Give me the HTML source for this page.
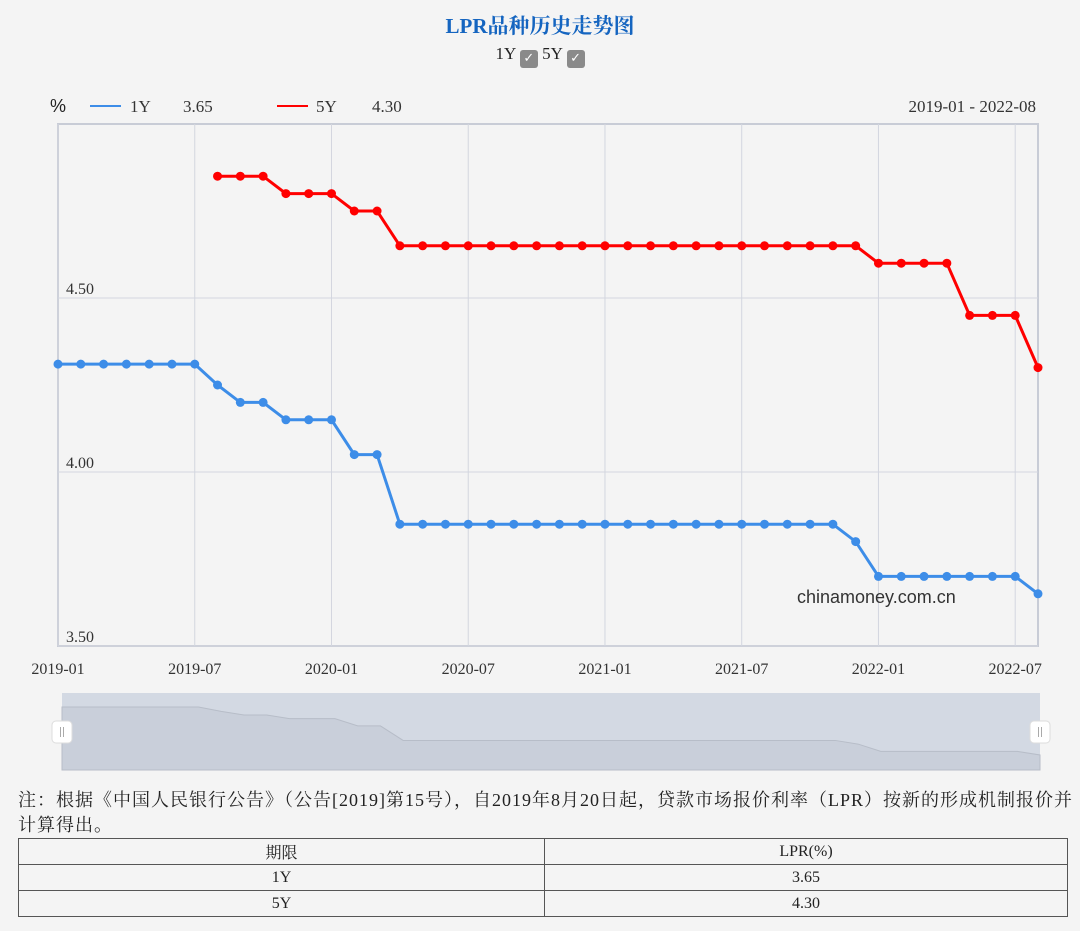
<!DOCTYPE html>
<html><head><meta charset="utf-8"><style>
html,body{margin:0;padding:0;background:#f4f4f4;width:1080px;height:931px;overflow:hidden;}
body{font-family:"Liberation Serif","Noto Serif CJK SC",serif;color:#222;position:relative;}
.title{position:absolute;top:10px;left:0;width:1080px;text-align:center;color:#1565c0;font-weight:bold;font-size:21px;}
.toggles{position:absolute;top:44px;left:0;width:1080px;text-align:center;font-size:17px;}
.cb{display:inline-block;width:18px;height:18px;background:#8a8a8a;border-radius:3px;color:#fff;font-size:13px;line-height:18px;vertical-align:-3px;text-align:center;font-family:"DejaVu Sans",sans-serif;}
.note{position:absolute;top:788px;left:18px;width:1062px;font-size:18px;line-height:25px;white-space:nowrap;letter-spacing:1px;font-family:"Liberation Serif","Noto Serif CJK SC",serif;}
table{position:absolute;top:838px;left:18px;width:1050px;border-collapse:collapse;font-size:16px;}
td{border:1px solid #555;text-align:center;height:25px;padding:0;}
</style></head><body>
<div class="title">LPR品种历史走势图</div>
<div class="toggles">1Y <span class="cb">✓</span> 5Y <span class="cb">✓</span></div>
<svg id="chart" width="1080" height="780" style="position:absolute;top:0;left:0"></svg>
<div class="note">注：根据《中国人民银行公告》（公告[2019]第15号），自2019年8月20日起，贷款市场报价利率（LPR）按新的形成机制报价并<br>计算得出。</div>
<table>
<tr><td style="width:525px">期限</td><td>LPR(%)</td></tr>
<tr><td>1Y</td><td>3.65</td></tr>
<tr><td>5Y</td><td>4.30</td></tr>
</table>
<script>
const months=["2019-01","2019-02","2019-03","2019-04","2019-05","2019-06","2019-07","2019-08","2019-09","2019-10","2019-11","2019-12","2020-01","2020-02","2020-03","2020-04","2020-05","2020-06","2020-07","2020-08","2020-09","2020-10","2020-11","2020-12","2021-01","2021-02","2021-03","2021-04","2021-05","2021-06","2021-07","2021-08","2021-09","2021-10","2021-11","2021-12","2022-01","2022-02","2022-03","2022-04","2022-05","2022-06","2022-07","2022-08"];
const y1=[4.31,4.31,4.31,4.31,4.31,4.31,4.31,4.25,4.20,4.20,4.15,4.15,4.15,4.05,4.05,3.85,3.85,3.85,3.85,3.85,3.85,3.85,3.85,3.85,3.85,3.85,3.85,3.85,3.85,3.85,3.85,3.85,3.85,3.85,3.85,3.80,3.70,3.70,3.70,3.70,3.70,3.70,3.70,3.65];
const y5=[null,null,null,null,null,null,null,4.85,4.85,4.85,4.80,4.80,4.80,4.75,4.75,4.65,4.65,4.65,4.65,4.65,4.65,4.65,4.65,4.65,4.65,4.65,4.65,4.65,4.65,4.65,4.65,4.65,4.65,4.65,4.65,4.65,4.60,4.60,4.60,4.60,4.45,4.45,4.45,4.30];
const yTicks=[3.5,4.0,4.5];
const xTickLabels=["2019-01","2019-07","2020-01","2020-07","2021-01","2021-07","2022-01","2022-07"];
const NS="http://www.w3.org/2000/svg",svg=document.getElementById('chart');
const L=58,R=1038,T=124,B=646;
const x=i=>L+(R-L)*i/(months.length-1);
const y=v=>B-(v-3.5)*348;
function mk(t,a,txt){const e=document.createElementNS(NS,t);for(const k in a)e.setAttribute(k,a[k]);if(txt!=null)e.textContent=txt;svg.appendChild(e);return e;}
let e;
e=mk('rect',{x:L,y:T,width:R-L,height:B-T,fill:'none',stroke:'#c8ccd6','stroke-width':2});

yTicks.forEach(v=>{
 e=mk('line',{x1:L,x2:R,y1:y(v),y2:y(v),stroke:'#d3d6df','stroke-width':1});
 
 e=mk('text',{x:66,y:y(v)-4,'font-size':16,fill:'#333','font-family':'Liberation Serif'},v.toFixed(2));
 
});
xTickLabels.forEach(lb=>{
 const i=months.indexOf(lb);
 e=mk('line',{x1:x(i),x2:x(i),y1:T,y2:B,stroke:'#d3d6df','stroke-width':1});
 
 e=mk('text',{x:x(i),y:674,'font-size':16,fill:'#333','text-anchor':'middle','font-family':'Liberation Serif'},lb);
 
});
function series(vals,color,name){
 const pts=[];vals.forEach((v,i)=>{if(v!=null)pts.push([x(i),y(v)]);});
 e=mk('polyline',{points:pts.map(p=>p.join(',')).join(' '),fill:'none',stroke:color,'stroke-width':3});
 
 pts.forEach(p=>{e=mk('circle',{cx:p[0],cy:p[1],r:4.5,fill:color});
 });
}
series(y1,'#3d8de8','series-1y');
series(y5,'#f00','series-5y');
e=mk('text',{x:50,y:112,'font-size':18,fill:'#222','font-family':'Liberation Sans'},'%');

e=mk('line',{x1:90,x2:121,y1:106,y2:106,stroke:'#3d8de8','stroke-width':2});

e=mk('text',{x:130,y:112,'font-size':17,fill:'#333'},'1Y');

e=mk('text',{x:183,y:112,'font-size':17,fill:'#333'},y1[y1.length-1].toFixed(2));

e=mk('line',{x1:277,x2:308,y1:106,y2:106,stroke:'#f00','stroke-width':2});

e=mk('text',{x:316,y:112,'font-size':17,fill:'#333'},'5Y');

e=mk('text',{x:372,y:112,'font-size':17,fill:'#333'},y5[y5.length-1].toFixed(2));

e=mk('text',{x:1036,y:112,'font-size':17,fill:'#333','text-anchor':'end'},months[0]+' - '+months[months.length-1]);

e=mk('text',{x:797,y:603,'font-size':18,fill:'#333','font-family':'Liberation Sans'},'chinamoney.com.cn');

const SL=62,SR=1040,ST=693,SB=770;
e=mk('rect',{x:SL,y:ST,width:SR-SL,height:SB-ST,fill:'#d3d9e3'});

const sx=i=>SL+(SR-SL)*i/(months.length-1);
const sy=v=>707+(4.31-v)*72.7;
let d='M'+SL+','+SB;y1.forEach((v,i)=>{d+=' L'+sx(i)+','+sy(v);});d+=' L'+SR+','+SB+' Z';
e=mk('path',{d:d,fill:'#c9cfda',stroke:'#b7bdc8','stroke-width':1});

[SL,SR].forEach((hx,k)=>{
 e=mk('rect',{x:hx-10,y:721,width:20,height:22,rx:4,fill:'#fff',stroke:'#ddd'});
 
 mk('line',{x1:hx-1.5,x2:hx-1.5,y1:727,y2:737,stroke:'#aaa'});
 mk('line',{x1:hx+1.5,x2:hx+1.5,y1:727,y2:737,stroke:'#aaa'});
});
</script>
</body></html>
